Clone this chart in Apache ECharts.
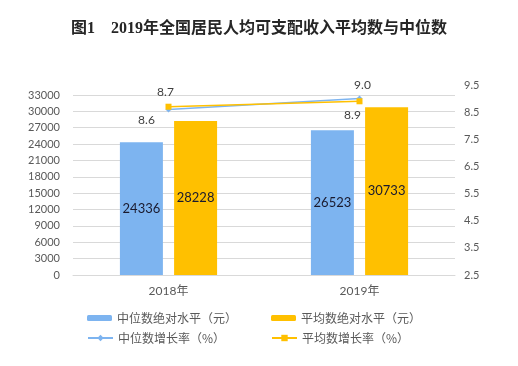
<!DOCTYPE html>
<html><head><meta charset="utf-8">
<script src="https://cdn.jsdelivr.net/npm/echarts@6/dist/echarts.min.js"></script>
<style>html,body{margin:0;padding:0;background:#fff}#c{width:518px;height:366px}</style>
</head><body><div id="c"></div>
<script>
var categories = ['2018年', '2019年'];
var medianLevel = [24336, 26523];
var meanLevel = [28228, 30733];
var medianGrowth = [8.6, 9.0];
var meanGrowth = [8.7, 8.9];
var names = ['中位数绝对水平（元）', '平均数绝对水平（元）', '中位数增长率（%）', '平均数增长率（%）'];

var blue = '#7DB4F0', gold = '#FFC000';
var axisFont = { color: '#595959', fontSize: 11, fontFamily: 'Lato, "Noto Sans CJK SC"' };
var chart = echarts.init(document.getElementById('c'));
var legendText = { color: '#595959', fontSize: 12, fontFamily: '"Noto Sans CJK SC"' };
function lg(name, left, top, h) {
  return { data: [name], left: left, top: top, itemWidth: 25, itemHeight: h, itemGap: 4, textStyle: legendText, selectedMode: false };
}
chart.setOption({
  animation: false,
  title: {
    text: '图1　2019年全国居民人均可支配收入平均数与中位数',
    left: 'center', top: 16,
    textStyle: { fontSize: 16, fontWeight: 'bold', color: '#262626', fontFamily: '"Liberation Serif", "Noto Sans CJK SC"' }
  },
  legend: [
    lg(names[0], 82, 307, 6),
    lg(names[1], 266, 307, 6),
    lg(names[2], 82, 327, 8),
    lg(names[3], 266, 327, 8)
  ],
  grid: [
    { left: 73, right: 63, top: 95, bottom: 91 },
    { left: 73, right: 63, top: 85, bottom: 91 }
  ],
  xAxis: [
    { type: 'category', gridIndex: 0, data: categories,
      axisLine: { lineStyle: { color: '#d9d9d9' } }, axisTick: { show: false },
      axisLabel: { margin: 10, fontSize: 12, color: '#595959', fontFamily: 'Lato, "Noto Sans CJK SC"' } },
    { type: 'category', gridIndex: 1, data: categories, show: false }
  ],
  yAxis: [
    { type: 'value', gridIndex: 0, min: 0, max: 33000, interval: 3000,
      axisLine: { show: false }, axisTick: { show: false },
      axisLabel: Object.assign({ margin: 13, formatter: function (v) { return String(v); } }, axisFont),
      splitLine: { lineStyle: { color: '#d9d9d9' } } },
    { type: 'value', gridIndex: 1, position: 'right', min: 2.5, max: 9.5, interval: 1,
      axisLine: { show: false }, axisTick: { show: false },
      axisLabel: Object.assign({ margin: 9, formatter: function (v) { return v.toFixed(1); } }, axisFont),
      splitLine: { show: false } }
  ],
  series: [
    { name: names[0], type: 'bar', xAxisIndex: 0, yAxisIndex: 0, data: medianLevel,
      barWidth: 43, barGap: '26%', itemStyle: { color: blue },
      label: { show: true, position: 'inside', color: '#1a1a2e', fontSize: 13, fontFamily: 'Lato' } },
    { name: names[1], type: 'bar', xAxisIndex: 0, yAxisIndex: 0, data: meanLevel,
      barWidth: 43, itemStyle: { color: gold },
      label: { show: true, position: 'inside', color: '#1a1a2e', fontSize: 13, fontFamily: 'Lato' } },
    { name: names[2], type: 'line', xAxisIndex: 1, yAxisIndex: 1,
      data: [
        { value: medianGrowth[0], label: { offset: [-22, 11] } },
        { value: medianGrowth[1], label: { offset: [3, -13] } }
      ],
      symbol: 'diamond', symbolSize: 6, lineStyle: { color: blue, width: 1.5 }, itemStyle: { color: blue },
      label: { show: true, position: 'inside', color: '#404040', fontSize: 12, fontFamily: 'Lato',
        formatter: function (p) { return p.value.toFixed(1); } } },
    { name: names[3], type: 'line', xAxisIndex: 1, yAxisIndex: 1,
      data: [
        { value: meanGrowth[0], label: { offset: [-3, -15] } },
        { value: meanGrowth[1], label: { offset: [-7, 14] } }
      ],
      symbol: 'rect', symbolSize: 6, lineStyle: { color: gold, width: 1.5 }, itemStyle: { color: gold },
      label: { show: true, position: 'inside', color: '#404040', fontSize: 12, fontFamily: 'Lato',
        formatter: function (p) { return p.value.toFixed(1); } } }
  ]
});
</script></body></html>
